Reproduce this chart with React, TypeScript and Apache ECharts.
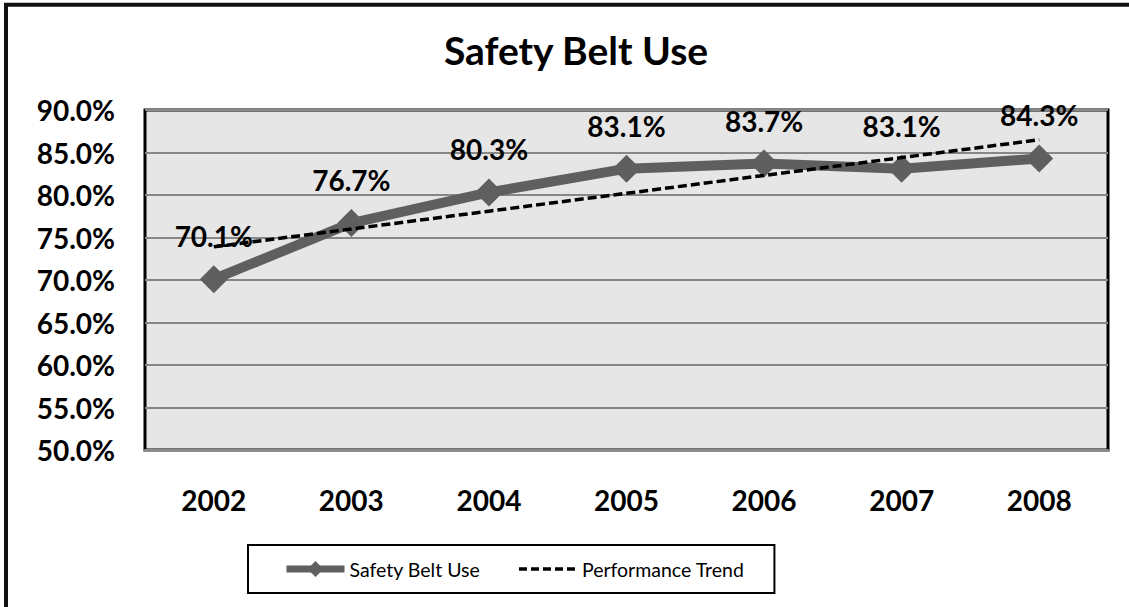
import React, { useEffect, useRef } from "react";
import * as echarts from "echarts";

const years = ["2002", "2003", "2004", "2005", "2006", "2007", "2008"];
const beltUse = [70.1, 76.7, 80.3, 83.1, 83.7, 83.1, 84.3];
const trend = [73.9, 76.0, 78.1, 80.2, 82.3, 84.4, 86.5];
const yMin = 50;
const yMax = 90;
const yStep = 5;

const FONT = "Lato, 'Open Sans', sans-serif";

export default function App() {
  const ref = useRef<HTMLDivElement>(null);
  useEffect(() => {
    if (!ref.current) return;
    const chart = echarts.init(ref.current, undefined, { renderer: "svg" });
    chart.setOption({
      animation: false,
      backgroundColor: "#ffffff",
      textStyle: { fontFamily: FONT },
      title: {
        text: "Safety Belt Use",
        left: 571,
        top: 25,
        textAlign: "center",
        textStyle: { fontFamily: FONT, fontWeight: "bold", fontSize: 39, color: "#000" },
      },
      grid: {
        left: 145,
        right: 21,
        top: 110,
        bottom: 157,
        show: true,
        backgroundColor: "#e6e6e6",
        borderColor: "#000",
        borderWidth: 3,
      },
      xAxis: {
        type: "category",
        data: years,
        boundaryGap: true,
        axisLine: { show: true, lineStyle: { color: "#8c8c8c", width: 3 } },
        axisTick: { show: false },
        axisLabel: { margin: 36, fontFamily: FONT, fontWeight: "bold", fontSize: 28, color: "#000" },
      },
      yAxis: {
        type: "value",
        min: yMin,
        max: yMax,
        interval: yStep,
        axisLine: { show: false },
        axisTick: { show: false },
        splitLine: { show: true, lineStyle: { color: "#878787", width: 2 } },
        axisLabel: {
          margin: 30,
          fontFamily: FONT,
          fontWeight: "bold",
          fontSize: 28,
          color: "#000",
          formatter: (v: number) => v.toFixed(1) + "%",
        },
      },
      legend: {
        left: 248,
        top: 545,
        padding: [14, 30, 14, 35],
        borderColor: "#000",
        borderWidth: 2,
        itemWidth: 58,
        itemHeight: 20,
        itemGap: 37,
        textStyle: { fontFamily: FONT, fontSize: 19.5, color: "#000" },
        data: [
          {
            name: "Safety Belt Use",
            lineStyle: { width: 7, color: "#5f5f5f" },
            itemStyle: { color: "#5f5f5f" },
          },
          {
            name: "Performance Trend",
            lineStyle: { width: 3.5, color: "#000", type: [8, 4] },
            itemStyle: { opacity: 0 },
          },
        ],
      },
      series: [
        {
          name: "Safety Belt Use",
          type: "line",
          data: beltUse,
          symbol: "diamond",
          symbolSize: 28,
          lineStyle: { color: "#5f5f5f", width: 10 },
          itemStyle: { color: "#5f5f5f" },
          z: 3,
          label: {
            show: true,
            position: "top",
            distance: 15,
            fontFamily: FONT,
            fontWeight: "bold",
            fontSize: 28,
            color: "#000",
            formatter: (p: any) => p.value.toFixed(1) + "%",
          },
        },
        {
          name: "Performance Trend",
          type: "line",
          data: trend,
          symbol: "none",
          z: 4,
          lineStyle: { color: "#000", width: 3.5, type: [9, 4] },
          itemStyle: { color: "#000" },
        },
      ],
      graphic: [
        { type: "line", shape: { x1: 4, y1: 4.7, x2: 1129, y2: 4.7 }, style: { stroke: "#111", lineWidth: 4 } },
        { type: "line", shape: { x1: 6, y1: 3, x2: 6, y2: 607 }, style: { stroke: "#111", lineWidth: 4 } },
      ],
    });
    return () => chart.dispose();
  }, []);
  return (
    <div
      ref={ref}
      style={{ position: "absolute", left: 0, top: 0, width: 1129, height: 607, background: "#fff" }}
    />
  );
}
